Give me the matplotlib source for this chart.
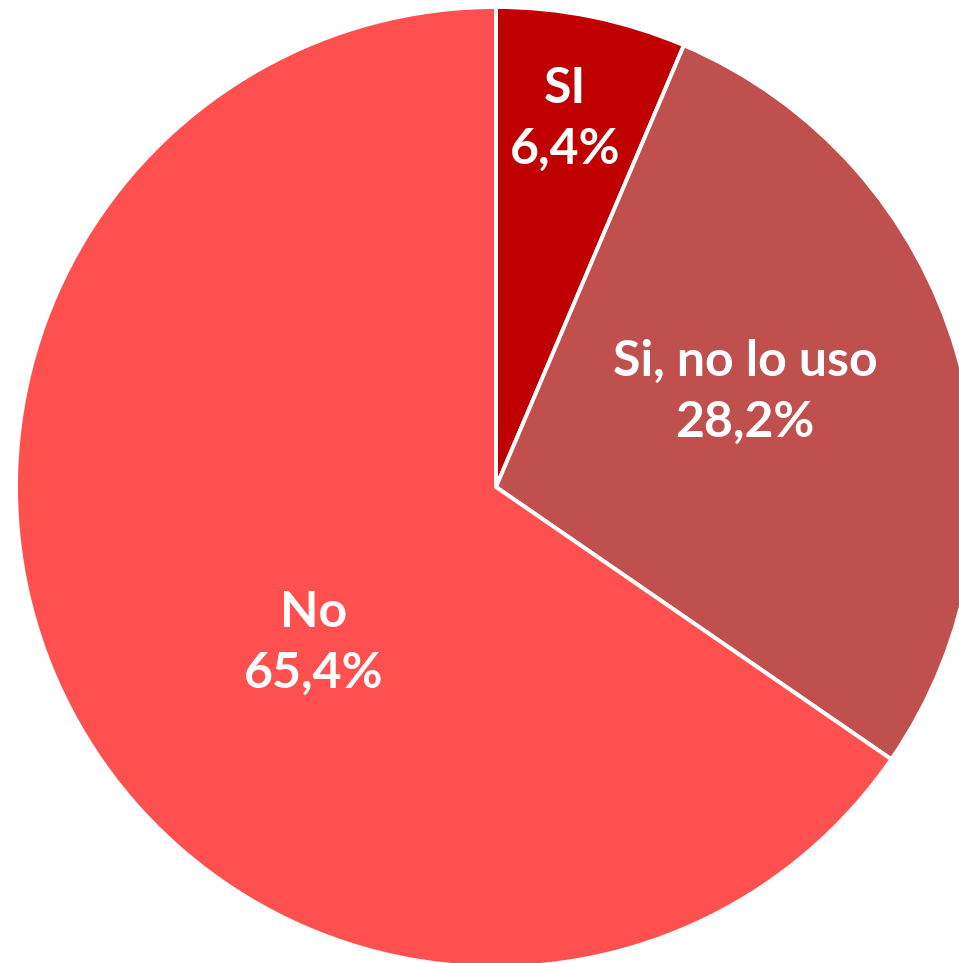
import matplotlib
matplotlib.use("Agg")
import matplotlib.pyplot as plt
import numpy as np

categories = ["SI", "Si, no lo uso", "No"]
values = [6.4, 28.2, 65.4]
colors = ["#C00000", "#C0504D", "#FF5050"]

# label positions as (radius fraction, angle in degrees) in pie coordinates
label_pos = [(0.78, 79.4), (0.555, 20.9), (0.50, 220.6)]

W, H = 959, 963
fig = plt.figure(figsize=(W / 100, H / 100), dpi=100)
ax = fig.add_axes([0, 0, 1, 1])
R = 480.0
cx, cy = 496.0, 487.0
ax.pie(values, colors=colors, startangle=90, counterclock=False,
       radius=1.0, center=(0, 0),
       wedgeprops=dict(edgecolor="white", linewidth=2.8))
ax.set_xlim((0 - cx) / R, (W - cx) / R)
ax.set_ylim((cy - H) / R, (cy - 0) / R)
ax.set_aspect("equal")
ax.axis("off")

for cat, val, (r, ang) in zip(categories, values, label_pos):
    x = r * np.cos(np.radians(ang))
    y = r * np.sin(np.radians(ang))
    txt = f"{cat}\n{val:.1f}%".replace(".", ",")
    ax.text(x, y, txt, ha="center", va="center", color="white",
            fontsize=36, fontweight="bold", family=["Lato", "DejaVu Sans"],
            linespacing=1.42)

fig.savefig("out.png", dpi=100)
